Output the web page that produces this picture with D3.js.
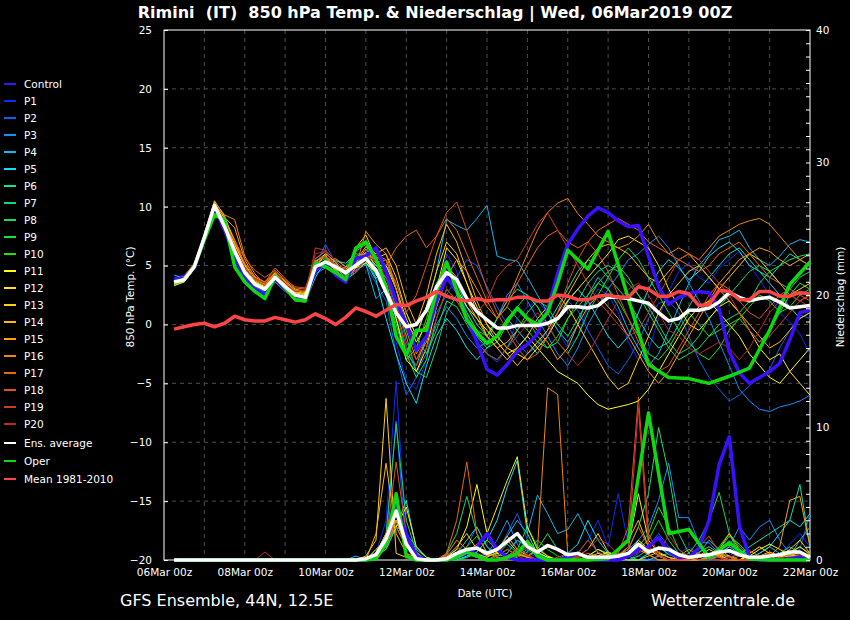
<!DOCTYPE html>
<html>
<head>
<meta charset="utf-8">
<script src="https://cdn.jsdelivr.net/npm/d3@7"></script>
<style>
  html, body { margin: 0; padding: 0; background: #000; }
  svg { display: block; font-family: "DejaVu Sans", sans-serif; }
</style>
</head>
<body>
<svg id="chart"></svg>
<script>
'use strict';

// forecast hours (GFS ensemble run 06Mar2019 00z, 6-hourly)
var hours = [6,12,18,24,30,36,42,48,54,60,66,72,78,84,90,96,102,108,114,120,126,132,138,144,150,156,162,168,174,180,186,192,
  198,204,210,216,222,228,234,240,246,252,258,264,270,276,282,288,294,300,306,312,318,324,330,336,342,348,354,360,366,372,378,384];
// operational run: 6-hourly to +240h, then 12-hourly
var operHours = [6,12,18,24,30,36,42,48,54,60,66,72,78,84,90,96,102,108,114,120,126,132,138,144,150,156,162,168,174,180,186,192,
  198,204,210,216,222,228,234,240,252,264,276,288,300,312,324,336,348,360,372,384];

var dateTicks = [0,48,96,144,192,240,288,336,384];
var dateLabels = ['06Mar 00z','08Mar 00z','10Mar 00z','12Mar 00z','14Mar 00z','16Mar 00z','18Mar 00z','20Mar 00z','22Mar 00z'];
var dayLines = [24,48,72,96,120,144,168,192,216,240,264,288,312,336,360];
var tempTicks = [25,20,15,10,5,0,-5,-10,-15,-20];
var tempGrid = [20,15,10,5,0,-5,-10,-15];
var precTicks = [0,10,20,30,40];

// 850 hPa temperature (°C)
var t_ctrl = [3.8,3.9,4.8,7.3,10.0,8.0,5.8,4.0,3.0,2.6,3.9,3.0,2.3,2.1,4.6,5.2,4.2,3.6,5.6,5.8,6.5,
  4.5,2.0,0.0,-2.2,-1.0,2.0,4.0,2.8,0.5,-1.5,-3.8,-4.3,-3.4,-2.3,-1.7,-0.8,1.3,4.3,6.8,8.1,9.2,9.9,9.5,8.8,8.3,8.4,5.8,3.2,1.7,2.3,2.6,2.8,2.7,1.3,-2.3,-4.1,-5.0,-4.5,-4.0,-3.3,-1.3,1.0,1.2];
var t_p1 = [4.0,4.2,5.0,7.5,10.2,8.5,6.5,4.8,3.5,3.2,4.2,3.4,2.6,2.5,5.5,6.4,4.8,4.0,4.6,6.2,4.0,
  3.0,-1.5,-4.8,-5.5,-3.0,2.5,6.0,4.5,1.0,-1.0,-2.5,-3.2,-2.0,0.5,1.5,2.0,1.0,-0.5,-2.0,-1.0,1.5,3.0,2.5,1.0,-1.5,-3.0,-2.2,0.5,2.8,4.5,5.2,4.0,3.5,4.8,5.5,6.2,5.0,3.8,2.5,1.0,0.2,-0.8,-2.5];
var t_p2 = [3.9,3.7,4.7,7.2,9.9,8.0,5.5,3.8,2.8,2.4,3.8,3.0,2.2,2.0,5.0,6.8,5.2,3.6,5.8,5.0,3.5,
  2.0,-2.5,-6.0,-4.5,-1.0,1.0,2.5,4.0,5.5,5.0,3.2,1.5,0.0,-1.5,-2.5,-1.8,-0.5,1.0,2.0,1.2,-0.5,-2.0,-3.5,-4.2,-3.0,-1.5,0.5,1.8,2.0,1.0,-1.0,-3.0,-4.5,-5.5,-6.5,-6.0,-5.2,-4.5,-3.8,-2.0,-0.5,0.8,0.5];
var t_p3 = [3.5,3.6,4.8,7.4,10.0,8.2,6.0,4.3,3.2,2.7,4.1,3.3,2.4,2.2,4.3,4.8,5.5,4.9,5.2,5.9,5.0,
  4.0,1.5,-2.0,-4.0,-2.5,0.0,1.5,0.5,-1.0,-2.0,-1.5,0.5,2.5,3.5,2.0,0.5,-1.0,-2.5,-3.5,-2.0,0.0,1.5,3.0,4.2,5.5,6.0,6.8,7.5,6.5,5.0,3.5,2.0,0.5,-1.5,-3.5,-5.5,-6.5,-7.2,-7.4,-7.0,-6.8,-6.5,-6.0];
var t_p4 = [4.2,3.9,4.9,7.6,10.3,8.4,6.1,4.2,3.0,2.5,3.6,2.8,2.3,2.1,4.5,5.0,4.3,3.9,4.6,5.1,2.2,
  3.0,1.5,0.0,-1.0,1.5,4.5,8.9,8.4,8.0,9.0,10.1,5.8,5.5,5.4,4.0,2.5,1.0,-0.5,-1.5,0.0,2.5,4.0,3.0,1.5,-0.5,-2.0,-3.5,-2.5,-0.5,1.5,3.5,5.0,6.0,7.2,7.5,8.0,6.5,5.5,5.0,5.8,6.8,7.2,7.0];
var t_p5 = [3.7,3.8,5.1,7.5,10.0,8.1,5.9,4.0,2.9,2.6,4.2,3.0,2.0,1.9,4.0,5.4,5.0,3.8,4.4,5.3,3.8,
  0.5,-2.5,-5.0,-6.7,-3.5,-1.0,0.5,-0.5,-2.0,-3.0,-2.0,-1.0,0.5,-0.5,-1.5,-2.5,-1.0,0.5,2.0,3.0,2.0,0.5,-1.0,-2.0,-1.0,1.0,3.0,4.5,5.5,4.8,3.8,4.5,5.8,6.5,7.0,6.2,5.0,4.5,3.5,2.5,1.5,0.5,1.0];
var t_p6 = [3.4,3.9,5.0,7.6,10.1,8.6,6.4,4.6,3.6,3.1,3.9,3.3,2.7,2.6,5.1,5.2,5.4,5.2,6.0,5.9,4.2,
  3.5,0.5,-2.5,-3.5,-1.0,2.0,4.5,3.5,1.5,0.0,-1.0,0.5,2.0,3.0,2.5,1.5,0.0,1.5,3.0,4.5,5.5,5.0,4.0,3.0,2.0,0.5,-1.0,-2.0,-1.5,0.0,1.5,3.0,4.0,5.0,6.0,6.5,5.5,4.5,4.0,5.0,6.0,5.5,5.0];
var t_p7 = [3.6,3.8,4.8,7.2,9.8,8.3,6.2,4.4,3.3,2.9,4.3,3.4,2.5,2.2,5.4,5.7,4.5,4.9,6.2,6.8,4.5,
  4.0,2.0,-1.0,-4.0,-4.5,-2.0,1.0,2.5,1.0,-0.5,-1.5,-1.0,0.5,1.5,0.5,-1.0,-2.0,-1.5,0.5,2.0,3.5,4.5,5.0,4.5,3.5,2.5,1.5,0.0,-1.5,-2.5,-2.0,-1.0,0.5,1.5,2.5,3.5,4.5,5.0,4.5,3.5,3.0,4.0,4.5];
var t_p8 = [3.9,3.7,4.7,7.3,9.9,8.0,5.7,4.1,3.1,2.8,4.0,3.1,2.4,2.3,4.8,5.5,5.0,4.1,5.3,5.6,3.9,
  5.0,3.5,1.0,-1.0,-2.5,-0.5,2.0,1.5,0.0,-1.5,-2.5,-3.0,-2.0,-0.5,1.0,2.0,1.5,0.0,-1.0,0.5,2.0,3.5,4.5,5.0,4.0,2.5,1.0,-0.5,-2.0,-3.0,-2.5,-2.0,-1.0,0.0,0.5,1.0,2.0,3.5,4.5,5.0,5.5,5.8,6.0];
var t_p9 = [3.5,3.9,4.9,7.6,10.4,8.5,6.3,4.5,3.5,3.0,4.1,3.2,2.6,2.4,5.0,5.2,4.4,4.6,5.6,6.0,5.5,
  4.5,1.5,-2.5,-4.5,-3.0,0.5,3.0,2.0,0.5,-1.0,-2.0,-1.5,0.0,1.5,2.5,1.5,0.0,-1.5,-2.5,-1.0,1.0,2.5,4.0,5.5,6.5,5.5,4.0,2.5,1.0,-0.5,-1.5,-2.5,-3.0,-2.0,-0.5,0.5,-0.5,-1.5,-0.5,1.0,2.5,3.5,3.0];
var t_p10 = [3.6,3.7,5.0,7.3,10.1,8.4,6.2,4.3,3.4,2.9,4.0,3.3,2.5,2.3,5.2,5.6,5.1,4.3,5.1,5.4,4.8,
  3.0,0.0,-3.0,-2.0,0.5,3.5,5.0,3.0,1.0,-0.5,-1.0,0.5,1.5,0.5,-0.5,-1.5,-2.0,-1.0,0.5,1.5,2.5,3.5,3.0,2.0,0.5,-1.0,-2.5,-3.0,-2.0,-0.5,1.0,0.0,-1.0,-0.5,0.0,0.5,1.5,2.5,2.0,1.0,1.5,2.5,3.0];
var t_p11 = [3.3,3.6,4.7,7.5,10.2,8.6,6.6,4.7,3.6,3.2,4.3,3.4,2.7,2.5,4.9,5.9,4.6,3.8,4.8,5.2,4.4,
  3.5,0.5,-3.0,-4.0,-2.0,1.5,4.0,3.0,1.5,0.5,-0.5,-1.5,-2.5,-2.0,-1.0,-2.0,-3.0,-4.0,-4.5,-5.0,-6.0,-6.8,-7.2,-7.0,-6.8,-6.5,-5.5,-4.0,-2.5,-1.0,0.5,1.5,2.0,1.0,0.0,-1.0,-2.5,-3.5,-4.5,-5.0,-4.0,-3.0,-2.0];
var t_p12 = [3.4,3.8,4.9,7.6,10.1,8.8,6.8,4.9,3.7,3.3,4.4,3.6,2.8,2.6,5.3,6.0,5.3,4.2,5.5,6.1,5.0,
  5.0,3.0,0.5,-1.5,0.0,3.0,6.5,5.5,3.5,1.5,0.0,-1.0,-2.0,-2.5,-3.0,-2.0,-1.0,0.5,2.0,3.0,4.0,5.0,6.0,7.2,7.5,7.0,6.5,5.0,3.0,1.5,0.0,-0.5,0.5,1.5,2.0,1.0,-0.5,-2.0,-3.0,-2.5,-4.0,-5.0,-6.0];
var t_p13 = [3.3,3.7,4.8,7.7,10.5,9.2,6.9,5.0,3.8,3.4,4.1,3.5,2.9,2.7,4.7,5.1,4.7,4.4,6.5,7.6,5.6,
  6.0,4.0,1.0,-1.0,1.5,4.5,7.0,6.0,3.5,1.0,-1.0,-2.0,-3.0,-2.0,-1.0,0.5,1.5,2.5,1.5,0.0,-1.5,-3.0,-4.5,-5.5,-5.0,-3.0,-1.0,1.0,2.5,3.5,4.5,5.0,4.0,3.0,4.0,5.0,6.0,5.5,4.5,3.5,2.5,3.0,3.5];
var t_p14 = [3.5,3.9,5.0,7.5,10.3,9.0,7.2,5.1,3.9,3.5,4.4,3.7,3.0,2.8,5.0,5.0,4.8,4.7,5.4,6.6,6.0,
  6.5,5.0,2.0,0.0,2.5,6.0,8.5,7.0,4.5,2.0,0.0,-1.5,-2.5,-3.5,-2.5,-1.5,-0.5,1.0,2.5,4.0,5.5,6.5,6.8,6.5,6.0,5.0,4.0,3.5,4.5,5.5,6.0,5.0,4.0,3.0,2.0,1.0,0.0,-1.0,-2.0,-1.5,-0.5,0.5,1.0];
var t_p15 = [3.6,3.8,4.9,7.4,10.2,9.1,8.2,5.5,4.0,3.6,4.5,3.6,2.8,2.5,4.6,5.3,5.6,4.9,5.2,6.4,5.2,
  5.5,3.0,0.0,-2.5,-1.0,2.0,5.0,4.0,2.0,0.5,-1.0,-2.0,-1.5,-0.5,0.5,-0.5,-1.5,-3.0,-2.0,0.0,1.5,2.5,1.5,0.5,-1.0,-2.5,-4.0,-5.0,-4.0,-2.5,-1.0,0.5,2.0,3.5,4.5,5.5,6.0,6.5,6.2,5.5,5.0,5.5,6.0];
var t_p16 = [3.7,4.0,5.1,7.6,10.4,9.3,8.9,5.8,4.3,3.4,4.3,3.6,2.9,2.9,5.4,5.8,5.1,4.5,4.9,7.9,6.8,
  6.0,3.0,-0.5,-3.0,-1.5,1.5,4.0,5.5,4.5,3.0,1.5,0.5,2.0,4.0,6.0,8.0,9.5,10.3,10.7,9.4,8.5,7.5,7.0,6.5,6.8,7.5,8.5,7.0,6.0,6.5,6.0,5.5,6.5,7.5,8.0,8.5,8.8,9.0,8.5,7.5,6.5,5.5,5.0];
var t_p17 = [3.8,4.1,5.2,7.7,10.0,8.7,7.0,5.2,4.1,3.6,4.8,3.9,3.1,3.0,5.6,6.2,5.0,4.8,5.8,6.0,5.8,
  5.0,6.5,7.5,8.0,6.5,7.5,9.0,8.0,6.0,4.0,2.0,0.5,1.5,3.5,5.0,6.5,7.5,8.0,7.0,6.5,7.0,8.0,8.5,9.0,8.5,8.0,7.0,6.5,6.0,5.5,5.0,4.5,5.0,6.0,6.5,7.0,6.0,5.0,4.0,3.5,2.5,2.0,2.5];
var t_p18 = [3.9,4.0,5.0,7.4,9.8,8.5,7.1,5.6,4.6,4.0,4.6,3.8,3.2,3.1,5.2,5.8,4.9,4.0,4.4,5.5,5.9,
  5.5,3.5,1.0,2.5,5.0,7.5,9.5,10.4,8.0,5.5,3.0,1.0,-0.5,-2.0,-3.0,-2.5,-1.0,1.0,3.5,5.5,7.0,6.0,4.5,2.5,0.5,-1.5,-3.0,-4.0,-3.5,-2.0,-0.5,1.0,2.5,3.5,3.0,2.0,1.0,0.5,1.5,2.5,3.0,2.5,2.0];
var t_p19 = [3.7,3.9,4.9,7.3,9.9,8.4,6.6,4.9,3.8,3.3,4.2,3.5,2.6,2.4,6.5,6.3,5.4,4.6,4.5,5.6,4.7,
  4.5,2.0,-1.5,-3.0,-1.0,2.0,4.5,3.5,2.0,1.0,2.0,4.0,5.0,5.5,7.0,8.5,9.5,8.0,6.5,5.0,3.5,2.0,1.0,0.0,-1.0,-0.5,1.0,2.5,4.0,5.5,6.0,5.5,4.5,3.5,2.5,1.0,-0.5,-1.5,-1.0,0.0,1.0,2.0,2.5];
var t_p20 = [3.6,3.8,4.8,7.5,10.0,8.2,6.3,4.7,3.9,3.5,4.5,3.5,2.8,2.9,6.0,6.2,4.8,4.5,5.7,5.8,5.4,
  4.0,1.0,-2.0,-3.5,-2.0,0.5,3.0,2.0,0.5,-1.5,-2.5,-3.0,-2.0,-1.0,0.0,1.0,0.0,-1.5,-2.5,-3.5,-2.5,-1.0,0.5,2.0,3.0,3.5,2.5,1.0,-0.5,-1.0,-2.0,-2.5,-2.0,-1.5,-2.0,-3.0,-2.0,-0.5,1.0,2.0,2.5,2.0,1.5];
var t_avg = [3.6,3.8,4.9,7.4,10.1,8.3,6.2,4.4,3.4,3.0,4.0,3.2,2.5,2.3,4.9,5.3,4.9,4.4,5.0,5.6,4.6,
  2.7,1.0,-0.2,0.0,1.2,3.2,4.4,3.8,2.2,1.1,0.4,-0.3,-0.3,-0.1,-0.1,-0.1,0.1,0.5,1.5,1.5,1.4,1.6,2.3,2.3,2.2,2.0,1.8,1.0,0.3,0.5,1.2,1.2,1.4,1.9,2.7,2.3,2.0,2.2,2.3,1.9,1.4,1.5,1.6];
var t_oper = [3.5,3.8,4.9,7.2,9.3,8.9,4.9,3.6,2.8,2.2,4.1,3.1,2.1,2.0,5.2,4.9,4.4,3.8,6.5,7.0,5.6,
  3.2,-1.0,-2.6,-0.5,-0.5,2.8,5.3,2.9,0.4,-0.7,-1.6,-1.0,0.3,1.4,0.5,0.0,1.0,3.5,6.3,
  4.7,7.9,2.2,-3.4,-4.5,-4.6,-5.0,-4.4,-3.7,-0.5,3.4,5.3];
var t_mean = [-0.4,-0.2,0.0,0.1,-0.2,0.1,0.7,0.4,0.3,0.3,0.6,0.4,0.2,0.4,0.9,0.5,0.0,0.6,1.4,1.1,0.7,1.2,1.7,1.6,
  2.0,2.3,2.8,2.4,2.1,2.0,2.2,2.0,2.1,2.1,2.3,2.3,2.0,2.0,2.5,2.4,2.1,2.1,2.4,2.5,2.3,2.3,3.2,3.0,2.4,2.4,2.8,2.6,1.6,1.7,2.9,2.8,2.1,2.1,2.8,2.8,2.4,2.4,2.7,2.6];

// precipitation (mm per 6 h)
var p_ctrl = [0,0,0,0,0,0,0,0,0,0,0,0,0,0,0,0,0,0,0,0,
  0.3,1.5,4.0,2.0,0.3,0,0,0,0.2,0.5,1.0,2.0,0.8,0.2,0,0,0,0,0,0.2,0.5,0.2,0,0,0,0.3,0.8,1.0,1.7,0.6,0.2,0.2,0.9,3.0,7.2,9.3,2.6,0.2,0,0,0,0.1,0.2,0];
var p_p1 = [0,0,0,0,0,0,0,0,0,0,0,0,0,0,0,0,0,0,0,0,
  0.5,3.0,13.5,1.5,0.5,0,0,0,0,0.3,0.8,0.5,0.2,0.8,1.5,0.6,0.2,0,0,0,0.5,1.5,3.0,1.0,5.0,1.2,0.3,0,0,0,0.5,1.0,0.4,0,0,0.3,0.8,0.3,0,0,0.4,1.2,2.0,1.0];
var p_p2 = [0,0,0,0,0,0,0,0,0,0,0,0,0,0,0,0,0,0,0,0,
  0.8,1.5,10.5,0.8,0.2,0,0,0,0.3,1.0,2.5,1.0,0.5,2.0,3.5,1.5,0.5,0.2,0,0,0,0,0.2,0.5,0.3,0,0.5,1.0,2.0,1.0,0.5,0.2,0,0,0.5,1.5,0.8,0.2,0,0,0.3,0.5,0.8,3.5];
var p_p3 = [0,0,0,0,0,0,0,0,0,0,0,0,0,0,0,0,0,0,0,0,
  0.2,1.0,3.0,1.0,0.2,0,0,0.3,0.8,0.4,0.2,0.5,1.5,3.0,1.2,0.3,0,0,0,0,0,0,0,0.2,0.4,0.8,1.5,2.5,4.5,7.3,3.2,3.2,1.3,1.3,0.5,1.0,2.5,1.5,2.5,3.0,1.5,0.5,0.2,0];
var p_p4 = [0,0,0,0,0,0,0,0,0,0,0,0,0,0,0,0,0,0,0.3,0,
  0.3,1.2,2.5,2.0,0.5,0,0,0,0,0.2,0.5,0.2,0.8,1.8,3.0,2.0,4.9,3.5,2.0,2.3,3.5,2.0,0.5,0.2,0,0,0,0.5,1.0,0.5,0,0,0.5,1.5,0.8,0.3,0,0,0.5,1.0,0.5,0.3,1.5,2.5];
var p_p5 = [0,0,0,0,0,0,0,0,0,0,0,0,0,0,0,0,0,0,0,0,
  0.4,0.8,2.5,4.5,0.8,0.2,0,0,0,0.3,0.6,1.5,3.0,5.5,7.5,2.0,0.5,0.2,0,0.5,1.2,3.0,1.5,0.5,0.2,0,0,0,0.3,0.5,0.3,0,0,0,0.4,1.0,0.5,0.2,0.5,1.0,2.0,3.0,2.5,3.5];
var p_p6 = [0,0,0,0,0,0,0,0,0,0,0,0,0,0,0,0,0,0,0,0,
  0.2,1.0,3.5,1.5,0.3,0,0,0,0.5,1.5,2.5,1.0,0.3,0.5,1.5,1.0,0.3,0,0,0,0,0.3,0.8,0.5,0.2,0,0.3,0.8,0.4,0,0,0.2,0.6,1.0,0.5,0.2,0.4,1.0,1.5,2.0,2.5,3.0,5.7,1.0];
var p_p7 = [0,0,0,0,0,0,0,0,0,0,0,0,0,0,0,0,0,0,0,0,
  0.5,2.0,10.3,3.0,0.6,0,0,0.5,2.0,4.8,2.0,0.5,0.2,0,0.3,0.8,0.3,0,0,0,0,0,0,0.2,0.5,0.3,0,0.5,1.0,0.4,0.2,0.5,1.5,3.0,5.1,2.0,0.5,0,0,0,0.2,0.5,0.3,0];
var p_p8 = [0,0,0,0,0,0,0,0,0,0,0,0,0,0,0,0,0,0,0,0,
  0.3,0.8,2.5,1.0,0.2,0,0,0,0.3,0.8,0.3,0,0.4,1.2,0.5,0.2,0.8,2.0,0.8,0.2,0,0,0,0,0.3,0.8,2.5,5.0,10.0,6.5,2.0,0.5,0,0,0.3,0.8,0.4,0,0,0,0.5,1.0,0.5,0.2];
var p_p9 = [0,0,0,0,0,0,0,0,0,0,0,0,0,0,0,0,0,0,0,0,
  0.2,1.0,3.5,1.5,0.4,0,0,0,0,0.2,0.6,1.5,0.8,0.3,0.8,2.5,1.0,0.3,0,0,0,0,0.2,0.4,0.2,0.3,1.0,2.0,4.0,2.5,0.8,0.2,0,0.3,1.0,2.0,1.0,0.3,0,0,0,0.2,0.5,0.3];
var p_p10 = [0,0,0,0,0,0,0,0,0,0,0,0,0,0,0,0,0,0,0,0,
  0.3,1.5,3.0,2.0,1.0,0.2,0,0,0.3,1.0,1.8,0.6,0.2,0,0.2,0.6,1.5,0.8,0.3,0,0,0,0,0,0.2,0.4,0.8,1.5,3.0,1.5,0.5,0.2,0,0.2,0.8,1.8,1.2,0.4,0,0,0.2,0.6,1.0,0.5];
var p_p11 = [0,0,0,0,0,0,0,0,0,0,0,0,0,0,0,0,0,0,0,0,
  0.5,2.0,3.0,1.0,0.3,0,0,0.2,0.8,2.5,5.7,2.0,0.5,0.2,0.5,1.5,0.6,0.2,0,0,0,0.3,0.8,0.4,0.2,0.5,1.5,0.8,0.3,0,0,0,0.2,0.5,0.2,0,0,0.3,0.8,1.2,0.8,0.4,0.2,0.5];
var p_p12 = [0,0,0,0,0,0,0,0,0,0,0,0,0,0,0,0,0,0,0,0,
  0.8,1.5,2.5,4.0,1.0,0.2,0,0,0.2,0.5,1.2,2.0,4.0,6.0,7.8,2.5,0.8,0.3,0,0,0,0,0.3,0.6,0.3,1.0,5.0,1.5,0.5,0.2,0,0,0.3,0.8,0.4,0,0,0.5,1.0,0.5,0.2,0.5,1.0,0.4];
var p_p13 = [0,0,0,0,0,0,0,0,0,0,0,0,0,0,0,0,0,0,0,0.3,
  1.5,12.2,0.5,0.2,0,0,0,0.3,1.0,2.0,0.8,0.3,0.5,1.5,0.6,0.2,0,0,0,0,0.3,0.8,2.0,0.6,0.2,0,0,0.3,0.6,0.2,0,0,0,0.2,0.5,0.3,0,0,0.3,0.6,0.3,0.8,1.5,0.5];
var p_p14 = [0,0,0,0,0,0,0,0,0,0,0,0,0,0,0,0,0,0,0,0,
  2.0,7.3,2.0,0.5,0.2,0,0,0,0.3,0.8,0.4,0.2,0.6,1.8,0.8,0.3,0,0,0,0,0,0.2,0.5,0.3,0.8,1.5,3.0,1.0,0.3,0,0,0,0.2,0.5,0.3,0,0,0,0.2,0.4,0.2,0.3,0.6,0.3];
var p_p15 = [0,0,0,0,0,0,0,0,0,0,0,0,0,0,0,0,0,0,0,0,
  0.5,2.0,4.5,1.5,0.4,0,0,0,0.2,0.5,0.3,0,0.3,0.8,0.4,0.2,0,0,0,0.3,0.6,0.3,0,0,0.2,0.5,1.0,0.4,0,0,0.3,0.8,0.4,0.2,0.8,2.0,0.8,0.2,0,0.3,1.0,4.5,4.8,1.0];
var p_p16 = [0,0,0,0,0,0,0,0,0,0,0,0,0,0,0,0,0,0,0,0,
  0.3,1.0,3.0,1.0,0.2,0,0,0.4,1.5,0.8,0.2,0,0,0.2,0.5,0.3,0.8,13.0,12.5,0.4,0,0,0,0.2,0.5,0.3,0.8,0.4,0,0,0,0,0,0.2,0.4,0.2,0,0,0,0.2,0.5,0.3,0,0];
var p_p17 = [0,0,0,0,0,0,0,0,0,0,0,0,0,0,0,0,0,0,0,0,
  0.4,1.5,2.5,1.0,0.3,0,0,0.5,3.0,7.4,2.0,0.5,0.2,0,0.4,1.0,0.4,0,0,0,0.2,0.5,0.3,0,0.3,0.8,2.5,1.0,0.3,0,0,0.2,0.5,0.2,0,0,0.3,0.7,0.3,0,0,0.2,0.4,0.2];
var p_p18 = [0,0,0,0,0,0,0,0,0,0,0,0,0,0,0,0,0,0,0,0,
  0.5,1.5,7.4,2.0,0.5,0,0,0.3,1.0,0.5,0.2,0,0,0.3,0.8,0.4,0,0,0,0,0.5,1.5,0.6,0.2,0.5,2.5,12.3,2.0,0.4,0,0,0.3,1.0,1.8,0.6,0.2,0,0,0.3,0.5,0.2,0,0.2,0.5];
var p_p19 = [0,0,0,0,0,0,0,0,0,0,0,0,0,0,0,0,0,0,0,0,
  0.3,1.0,3.5,1.0,0.3,0,0,0,0.2,0.5,0.2,0,0.3,0.8,0.3,0,0,0,0.2,0.5,0.2,0,0,0.2,0.4,1.0,11.5,1.0,0.3,0,0,0,0.2,0.4,0.2,0,0,0,0.2,0.4,0.2,0,0,0.2];
var p_p20 = [0,0,0,0,0,0,0,0,0,0.6,0,0,0,0,0,0,0,0,0,0,
  0.4,1.5,3.5,1.5,0.4,0,0,0,0.3,0.8,0.4,0,0,0.2,0.6,0.3,0,0,0,0,0.3,0.8,1.6,1.2,0.4,0.2,0.6,1.0,0.5,1.9,0.8,0.3,0,0,0,0.2,0.5,0.2,0,0,0.3,0.6,0.3,0];
var p_avg = [0,0,0,0,0,0,0,0,0,0,0,0,0,0,0,0,0,0,0,0.1,
  0.4,1.6,3.7,1.2,0.1,0,0,0.1,0.5,0.8,0.9,0.5,0.8,1.4,2.0,1.0,0.6,1.1,0.8,0.4,0.5,0.2,0.2,0.2,0.3,0.5,1.2,0.6,0.9,0.8,0.4,0.2,0.3,0.4,0.6,0.7,0.4,0.2,0.2,0.3,0.4,0.6,0.6,0.2];
var p_oper = [0,0,0,0,0,0,0,0,0,0,0,0,0,0,0,0,0,0,0,0,
  0.1,1.2,5.0,0.3,0,0,0,0,0.2,0.6,0.3,0,0,0.2,0.5,1.4,0.3,0,0,0,
  0,0.1,1.5,11.1,2.0,2.3,0.2,1.3,0.1,0,0,0];

var members = [
  {name: 'P1',  color: '#0b2cff', t: t_p1,  p: p_p1},
  {name: 'P2',  color: '#1060f0', t: t_p2,  p: p_p2},
  {name: 'P3',  color: '#1090ff', t: t_p3,  p: p_p3},
  {name: 'P4',  color: '#10b8f0', t: t_p4,  p: p_p4},
  {name: 'P5',  color: '#10e0f0', t: t_p5,  p: p_p5},
  {name: 'P6',  color: '#10e0a8', t: t_p6,  p: p_p6},
  {name: 'P7',  color: '#10d878', t: t_p7,  p: p_p7},
  {name: 'P8',  color: '#10e060', t: t_p8,  p: p_p8},
  {name: 'P9',  color: '#10e838', t: t_p9,  p: p_p9},
  {name: 'P10', color: '#20e010', t: t_p10, p: p_p10},
  {name: 'P11', color: '#ffff10', t: t_p11, p: p_p11},
  {name: 'P12', color: '#ffe810', t: t_p12, p: p_p12},
  {name: 'P13', color: '#ffd010', t: t_p13, p: p_p13},
  {name: 'P14', color: '#ffb810', t: t_p14, p: p_p14},
  {name: 'P15', color: '#ffa010', t: t_p15, p: p_p15},
  {name: 'P16', color: '#f08810', t: t_p16, p: p_p16},
  {name: 'P17', color: '#e86810', t: t_p17, p: p_p17},
  {name: 'P18', color: '#e05020', t: t_p18, p: p_p18},
  {name: 'P19', color: '#d03828', t: t_p19, p: p_p19},
  {name: 'P20', color: '#c02828', t: t_p20, p: p_p20}
];
var ctrlColor = '#3a10ff', avgColor = '#ffffff', operColor = '#10d810', meanColor = '#ff4444';

var width = 850, height = 620;
var svg = d3.select('#chart').attr('width', width).attr('height', height);
svg.append('rect').attr('width', width).attr('height', height).attr('fill', '#000');

var x = d3.scaleLinear().domain([0, 384]).range([164, 810]);
var yT = d3.scaleLinear().domain([-20, 25]).range([560, 30]);
var yP = d3.scaleLinear().domain([0, 40]).range([560, 30]);

// grid
var grid = svg.append('g');
grid.selectAll('.vg').data(dayLines).enter().append('line')
  .attr('x1', d => x(d)).attr('x2', d => x(d))
  .attr('y1', 30).attr('y2', 560)
  .attr('stroke', '#4c4c4c').attr('stroke-dasharray', '4,4');
grid.selectAll('.hg').data(tempGrid).enter().append('line')
  .attr('x1', 164).attr('x2', 810)
  .attr('y1', d => yT(d)).attr('y2', d => yT(d))
  .attr('stroke', '#4c4c4c').attr('stroke-dasharray', '4,4');

// frame
svg.append('rect').attr('x', 164).attr('y', 30).attr('width', 646).attr('height', 530)
  .attr('fill', 'none').attr('stroke', '#fff').attr('stroke-width', 1);

// lines
var lineT = function (hrs) {
  return d3.line().x((d, i) => x(hrs[i])).y(d => yT(d));
};
var lineP = function (hrs) {
  return d3.line().x((d, i) => x(hrs[i])).y(d => yP(d));
};

var plot = svg.append('g');
var thinP = plot.append('g'), thinT = plot.append('g');
members.forEach(function (m) {
  thinP.append('path').attr('d', lineP(hours)(m.p))
    .attr('fill', 'none').attr('stroke', m.color).attr('stroke-width', 1);
  thinT.append('path').attr('d', lineT(hours)(m.t))
    .attr('fill', 'none').attr('stroke', m.color).attr('stroke-width', 1);
});

var thick = plot.append('g').attr('fill', 'none').attr('stroke-linejoin', 'round');
thick.append('path').attr('d', lineP(hours)(p_ctrl)).attr('stroke', ctrlColor).attr('stroke-width', 3.5);
thick.append('path').attr('d', lineT(hours)(t_ctrl)).attr('stroke', ctrlColor).attr('stroke-width', 3.5);
thick.append('path').attr('d', lineP(operHours)(p_oper)).attr('stroke', operColor).attr('stroke-width', 3.5);
thick.append('path').attr('d', lineT(operHours)(t_oper)).attr('stroke', operColor).attr('stroke-width', 3.5);
thick.append('path').attr('d', lineP(hours)(p_avg)).attr('stroke', avgColor).attr('stroke-width', 3.5);
thick.append('path').attr('d', lineT(hours)(t_avg)).attr('stroke', avgColor).attr('stroke-width', 3.5);
thick.append('path').attr('d', lineT(hours)(t_mean)).attr('stroke', meanColor).attr('stroke-width', 3.5);

// axes
var axL = svg.append('g').attr('transform', 'translate(164,0)')
  .call(d3.axisLeft(yT).tickValues(tempTicks).tickSize(-4).tickPadding(12));
var axR = svg.append('g').attr('transform', 'translate(810,0)')
  .call(d3.axisRight(yP).tickValues(d3.range(0, 41)).tickSize(-4).tickPadding(6)
    .tickFormat(d => precTicks.indexOf(d) >= 0 ? d : ''));
var axB = svg.append('g').attr('transform', 'translate(0,560)')
  .call(d3.axisBottom(x).tickValues(dateTicks).tickSize(0).tickPadding(9)
    .tickFormat((d, i) => dateLabels[i]));
[axL, axR, axB].forEach(function (a) {
  a.select('.domain').remove();
  a.selectAll('line').attr('stroke', '#fff');
  a.selectAll('text').attr('fill', '#fff').style('font-size', '10.5px')
    .style('font-family', '"DejaVu Sans", sans-serif');
});

// titles
svg.append('text').attr('x', 435).attr('y', 18).attr('text-anchor', 'middle')
  .style('white-space', 'pre').style('font-weight', 'bold').style('font-size', '16px')
  .attr('fill', '#fff').text('Rimini  (IT)  850 hPa Temp. & Niederschlag | Wed, 06Mar2019 00Z');
svg.append('text').attr('transform', 'translate(134,297) rotate(-90)').attr('text-anchor', 'middle')
  .style('font-size', '10.5px').attr('fill', '#fff').text('850 hPa Temp. (°C)');
svg.append('text').attr('transform', 'translate(844,297) rotate(-90)').attr('text-anchor', 'middle')
  .style('font-size', '10.5px').attr('fill', '#fff').text('Niederschlag (mm)');
svg.append('text').attr('x', 485).attr('y', 597).attr('text-anchor', 'middle')
  .style('font-size', '10px').attr('fill', '#fff').text('Date (UTC)');
svg.append('text').attr('x', 120).attr('y', 606)
  .style('font-size', '16px').attr('fill', '#fff').text('GFS Ensemble, 44N, 12.5E');
svg.append('text').attr('x', 795).attr('y', 606).attr('text-anchor', 'end')
  .style('font-size', '16px').attr('fill', '#fff').text('Wetterzentrale.de');

// legend
var legendItems = [{name: 'Control', color: ctrlColor}].concat(members.map(m => ({name: m.name, color: m.color})));
var legend = svg.append('g');
legendItems.forEach(function (d, i) {
  var ly = 84 + i * 17;
  legend.append('line').attr('x1', 4).attr('x2', 16).attr('y1', ly).attr('y2', ly)
    .attr('stroke', d.color).attr('stroke-width', 2);
  legend.append('text').attr('x', 24).attr('y', ly + 4).style('font-size', '10.5px')
    .attr('fill', '#fff').text(d.name);
});
[{name: 'Ens. average', color: avgColor, y: 443},
 {name: 'Oper', color: operColor, y: 461},
 {name: 'Mean 1981-2010', color: meanColor, y: 479}].forEach(function (d) {
  legend.append('line').attr('x1', 4).attr('x2', 16).attr('y1', d.y).attr('y2', d.y)
    .attr('stroke', d.color).attr('stroke-width', 2);
  legend.append('text').attr('x', 24).attr('y', d.y + 4).style('font-size', '10.5px')
    .attr('fill', '#fff').text(d.name);
});
</script>
</body>
</html>
